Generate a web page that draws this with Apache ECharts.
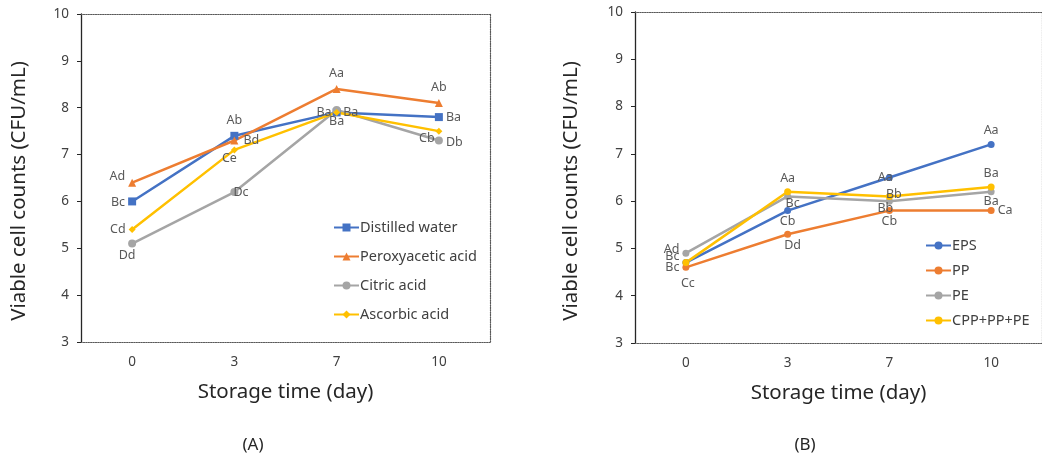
<!DOCTYPE html>
<html><head><meta charset="utf-8">
<script src="https://cdn.jsdelivr.net/npm/echarts@6/dist/echarts.min.js"></script>
<style>html,body{margin:0;padding:0;background:#fff}#c{width:1042px;height:456px}</style>
</head><body><div id="c"></div>
<script>
// ---- data ----
const days = ['0', '3', '7', '10'];
const yTicks = [3, 4, 5, 6, 7, 8, 9, 10];

const seriesNamesA = ['Distilled water', 'Peroxyacetic acid', 'Citric acid', 'Ascorbic acid'];
const distilledWater = [6.0, 7.4, 7.9, 7.8];
const peroxyaceticAcid = [6.4, 7.3, 8.4, 8.1];
const citricAcid = [5.1, 6.2, 7.95, 7.3];
const ascorbicAcid = [5.4, 7.1, 7.9, 7.5];
const lettersDistilled = ['Bc', 'Ab', 'Ba', 'Ba'];
const lettersPeroxy = ['Ad', 'Bd', 'Aa', 'Ab'];
const lettersCitric = ['Dd', 'Dc', 'Ba', 'Db'];
const lettersAscorbic = ['Cd', 'Ce', 'Ba', 'Cb'];

const seriesNamesB = ['EPS', 'PP', 'PE', 'CPP+PP+PE'];
const eps = [4.7, 5.8, 6.5, 7.2];
const pp = [4.6, 5.3, 5.8, 5.8];
const pe = [4.9, 6.1, 6.0, 6.2];
const cppPpPe = [4.7, 6.2, 6.1, 6.3];
const lettersEps = ['Cc', 'Cb', 'Aa', 'Aa'];
const lettersPp = ['Bc', 'Dd', 'Cb', 'Ca'];
const lettersPe = ['Ad', 'Bc', 'Bb', 'Ba'];
const lettersMix = ['Bc', 'Aa', 'Bb', 'Ba'];

const yTitle = 'Viable cell counts (CFU/mL)';
const xTitle = 'Storage time (day)';

// ---- styles ----
const FONT = 'Noto Sans';
const COLORS = ['#4472C4', '#ED7D31', '#A5A5A5', '#FFC000'];
const LABEL_COLOR = '#595959';

// label placement per point: [position, dx, dy]
const posDistilled = [['left', 0, 1], ['top', 0, -2], ['left', 2, 0], ['right', 0, 0]];
const posPeroxy = [['left', 0, -6], ['right', 2, 0], ['top', 0, -2], ['top', 0, -2]];
const posCitric = [['bottom', -5, -2], ['right', -8, 0], ['bottom', 0, -2], ['right', 0, 2]];
const posAscorbic = [['left', 0, 0], ['bottom', -5, -4], ['right', 0, 0], ['bottom', -12, -6]];

const posEps = [['bottom', 2, 8], ['bottom', 0, -2], ['left', 10, 0], ['top', 0, -1]];
const posPp = [['left', 0, 0], ['bottom', 5, -2], ['bottom', 0, -2], ['right', 0, 0]];
const posPe = [['left', 0, -4], ['bottom', 5, -6], ['bottom', -4, -6], ['bottom', 0, -3]];
const posMix = [['left', 0, -6], ['top', 0, 0], ['right', -10, -2], ['top', 0, -1]];

function pts(values, letters, pos) {
  return values.map((v, i) => ({
    value: v,
    label: {
      show: true, formatter: letters[i], position: pos[i][0],
      offset: [pos[i][1], pos[i][2]], distance: 3,
      color: LABEL_COLOR, fontSize: 12.5, fontFamily: FONT
    }
  }));
}

function mkSeries(name, values, letters, pos, idx, symbol, size, colorIdx) {
  return {
    name: name, type: 'line', xAxisIndex: idx, yAxisIndex: idx,
    data: pts(values, letters, pos),
    symbol: symbol, symbolSize: size,
    itemStyle: { color: COLORS[colorIdx] },
    lineStyle: { color: COLORS[colorIdx], width: 2.5 },
    emphasis: { disabled: true }, animation: false
  };
}

function yAxisMain(gridIndex) {
  return {
    type: 'value', gridIndex: gridIndex, min: yTicks[0], max: yTicks[yTicks.length - 1], interval: 1,
    axisLine: { show: true, lineStyle: { color: '#262626', width: 1.3 } },
    axisTick: { show: true, length: 4, lineStyle: { color: '#262626' } },
    axisLabel: { fontSize: 13.5, color: '#404040', fontFamily: FONT, margin: 12 },
    splitLine: { show: false }
  };
}
function yAxisRight(gridIndex) {
  return {
    type: 'value', gridIndex: gridIndex, position: 'right', min: 3, max: 10, interval: 1,
    axisLine: { show: true, lineStyle: { color: '#595959', type: 'dotted', width: 1.2 } },
    axisTick: { show: false }, axisLabel: { show: false }, splitLine: { show: false }
  };
}
function xAxisMain(gridIndex) {
  return {
    type: 'category', gridIndex: gridIndex, data: days, boundaryGap: true,
    name: xTitle, nameLocation: 'middle', nameGap: 40,
    nameTextStyle: { fontSize: 20.5, color: '#262626', fontFamily: FONT },
    axisLine: { show: true, lineStyle: { color: '#595959', type: 'dotted', width: 1.2 } },
    axisTick: { show: false },
    axisLabel: { fontSize: 13.5, color: '#404040', fontFamily: FONT, margin: 13 },
    splitLine: { show: false }
  };
}
function xAxisTop(gridIndex) {
  return {
    type: 'category', gridIndex: gridIndex, data: days, position: 'top',
    axisLine: { show: true, lineStyle: { color: '#595959', type: 'dotted', width: 1.2 } },
    axisTick: { show: false }, axisLabel: { show: false }, splitLine: { show: false }
  };
}
function yTitleText(x, y) {
  return {
    type: 'text', x: x, y: y, rotation: Math.PI / 2,
    style: { text: yTitle, fontSize: 20.5, fill: '#262626', fontFamily: FONT,
      align: 'center', verticalAlign: 'middle' }
  };
}

const option = {
  backgroundColor: '#fff',
  animation: false,
  textStyle: { fontFamily: FONT },
  title: [
    { text: '(A)', left: 253, top: 437, textAlign: 'center', padding: 0,
      textStyle: { fontSize: 17, fontWeight: 'normal', color: '#262626', fontFamily: FONT } },
    { text: '(B)', left: 805, top: 437, textAlign: 'center', padding: 0,
      textStyle: { fontSize: 17, fontWeight: 'normal', color: '#262626', fontFamily: FONT } }
  ],
  graphic: [yTitleText(19, 191), yTitleText(571, 191)],
  grid: [
    { left: 81, top: 14, width: 409, height: 328 },
    { left: 635, top: 12, width: 409, height: 331 }
  ],
  xAxis: [xAxisMain(0), xAxisMain(1), xAxisTop(0), xAxisTop(1)],
  yAxis: [yAxisMain(0), yAxisMain(1), yAxisRight(0), yAxisRight(1)],
  legend: [
    { data: seriesNamesA, orient: 'vertical', left: 333, top: 220, itemGap: 14, padding: 0,
      itemWidth: 25, itemHeight: 10,
      textStyle: { fontSize: 14.5, color: '#404040', fontFamily: FONT, padding: [0, 0, 0, -4] } },
    { data: seriesNamesB, orient: 'vertical', left: 925, top: 238, itemGap: 10, padding: 0,
      itemWidth: 25, itemHeight: 10,
      textStyle: { fontSize: 14.5, color: '#404040', fontFamily: FONT, padding: [0, 0, 0, -4] } }
  ],
  series: [
    mkSeries(seriesNamesA[0], distilledWater, lettersDistilled, posDistilled, 0, 'rect', 8, 0),
    mkSeries(seriesNamesA[1], peroxyaceticAcid, lettersPeroxy, posPeroxy, 0, 'triangle', 8, 1),
    mkSeries(seriesNamesA[2], citricAcid, lettersCitric, posCitric, 0, 'circle', 8, 2),
    mkSeries(seriesNamesA[3], ascorbicAcid, lettersAscorbic, posAscorbic, 0, 'diamond', 7, 3),
    mkSeries(seriesNamesB[0], eps, lettersEps, posEps, 1, 'circle', 7, 0),
    mkSeries(seriesNamesB[1], pp, lettersPp, posPp, 1, 'circle', 7, 1),
    mkSeries(seriesNamesB[2], pe, lettersPe, posPe, 1, 'circle', 7, 2),
    mkSeries(seriesNamesB[3], cppPpPe, lettersMix, posMix, 1, 'circle', 7, 3)
  ]
};
const chart = echarts.init(document.getElementById('c'), null, { renderer: 'canvas' });
chart.setOption(option);
</script></body></html>
